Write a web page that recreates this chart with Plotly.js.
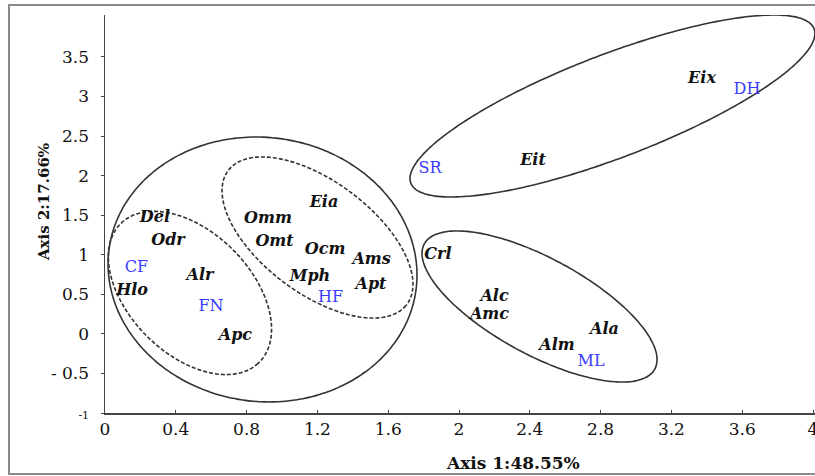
<!DOCTYPE html>
<html>
<head>
<meta charset="utf-8">
<script src="https://cdn.plot.ly/plotly-3.0.1.min.js"></script>
<style>html,body{margin:0;padding:0;background:#fff;}#chart{width:815px;height:476px;}</style>
</head>
<body>
<div id="chart"></div>
<script>
// Species labels (black, bold italic)
const speciesNames = ["Eix","Eit","Eia","Del","Omm","Odr","Omt","Ocm","Ams","Alr","Mph","Apt","Hlo","Apc","Crl","Alc","Amc","Ala","Alm"];
const speciesX = [3.373,2.418,1.237,0.282,0.921,0.356,0.958,1.243,1.506,0.537,1.158,1.503,0.153,0.737,1.881,2.201,2.172,2.822,2.554];
const speciesY = [3.221,2.185,1.648,1.465,1.452,1.168,1.155,1.054,0.928,0.732,0.725,0.618,0.548,-0.027,1.003,0.466,0.233,0.049,-0.153];

// Habitat labels (blue)
const habitatNames = ["CF","FN","HF","SR","DH","ML"];
const habitatX = [0.178,0.599,1.274,1.836,3.627,2.746];
const habitatY = [0.827,0.340,0.454,2.084,3.087,-0.361];

// Group ellipses: centre and two conjugate half-axis vectors (data units)
const ellipseCX = [0.890, 0.480, 1.2006, 2.867, 2.455];
const ellipseCY = [0.814, 0.517, 1.218, 2.880, 0.346];
const ellipseUX = [0.867, 0.3915, 0.5049, 1.139, 0.651];
const ellipseUY = [-0.259, -0.876, -0.845, 0.9756, -0.7906];
const ellipseVX = [-0.099, -0.2435, -0.1898, 0.1042, -0.130];
const ellipseVY = [-1.654, -0.545, -0.5677, -0.609, -0.5353];
const ellipseDash = ["solid", "4px,2px", "4px,2px", "solid", "solid"];

// Axis ticks
const xTickVals = [0,0.4,0.8,1.2,1.6,2,2.4,2.8,3.2,3.6,4];
const xTickText = ["0","0.4","0.8","1.2","1.6","2","2.4","2.8","3.2","3.6","4"];
const yTickVals = [3.5,3,2.5,2,1.5,1,0.5,0,-0.5,-1];
const yTickText = ["3.5","3","2.5","2","1.5","1","0.5","0","- 0.5","<span style='font-size:11px'>-1</span>"];

const traces = [];
for (let i = 0; i < ellipseCX.length; i++) {
  const xs = [], ys = [];
  for (let k = 0; k <= 240; k++) {
    const t = 2 * Math.PI * k / 240;
    xs.push(ellipseCX[i] + ellipseUX[i] * Math.cos(t) + ellipseVX[i] * Math.sin(t));
    ys.push(ellipseCY[i] + ellipseUY[i] * Math.cos(t) + ellipseVY[i] * Math.sin(t));
  }
  traces.push({x: xs, y: ys, mode: "lines", type: "scatter", hoverinfo: "skip",
    line: {color: "#333", width: 1.6, dash: ellipseDash[i], shape: "spline"}, showlegend: false});
}
traces.push({x: speciesX, y: speciesY, text: speciesNames.map(s => "<b><i>" + s + "</i></b>"),
  mode: "text", type: "scatter", textposition: "middle center", cliponaxis: false,
  textfont: {family: "DejaVu Serif", size: 16, color: "#111"}, showlegend: false});
traces.push({x: habitatX, y: habitatY, text: habitatNames,
  mode: "text", type: "scatter", textposition: "middle center", cliponaxis: false,
  textfont: {family: "DejaVu Serif", size: 16, color: "#3a3aff"}, showlegend: false});

const layout = {
  width: 815, height: 476,
  margin: {l: 105, r: 0, t: 15, b: 63},
  paper_bgcolor: "#fff", plot_bgcolor: "#fff",
  showlegend: false,
  xaxis: {range: [0, 4.0113], tickvals: xTickVals, ticktext: xTickText,
    showgrid: false, zeroline: false, showline: true, linecolor: "#444", linewidth: 1.5,
    ticks: "inside", ticklen: 3, tickcolor: "#444", ticklabeloverflow: "allow",
    tickfont: {family: "DejaVu Serif", size: 17, color: "#111"}},
  yaxis: {range: [-1, 4.03], tickvals: yTickVals, ticktext: yTickText,
    showgrid: false, zeroline: false, showline: true, linecolor: "#444", linewidth: 1.5,
    ticks: "outside", ticklen: 3, tickcolor: "#444", ticklabelstandoff: 8,
    tickfont: {family: "DejaVu Serif", size: 17, color: "#111"}},
  shapes: [{type: "rect", xref: "paper", yref: "paper", x0: -0.1352, x1: 1.0014, y0: -0.1533, y1: 1.0251,
    line: {color: "#8a8a8a", width: 2}, fillcolor: "rgba(0,0,0,0)"}],
  annotations: [
    {text: "<b>Axis 2:17.66%</b>", xref: "paper", yref: "paper", x: -0.0859, y: 0.53,
     xanchor: "center", yanchor: "middle",
     textangle: -90, showarrow: false, font: {family: "DejaVu Serif", size: 15, color: "#111"}},
    {text: "<b>Axis 1:48.55%</b>", xref: "paper", yref: "paper", x: 0.5746, y: -0.1256,
     xanchor: "center", yanchor: "middle",
     showarrow: false, font: {family: "DejaVu Serif", size: 17, color: "#111"}}
  ]
};
Plotly.newPlot("chart", traces, layout, {displayModeBar: false, staticPlot: true});
</script>
</body>
</html>
